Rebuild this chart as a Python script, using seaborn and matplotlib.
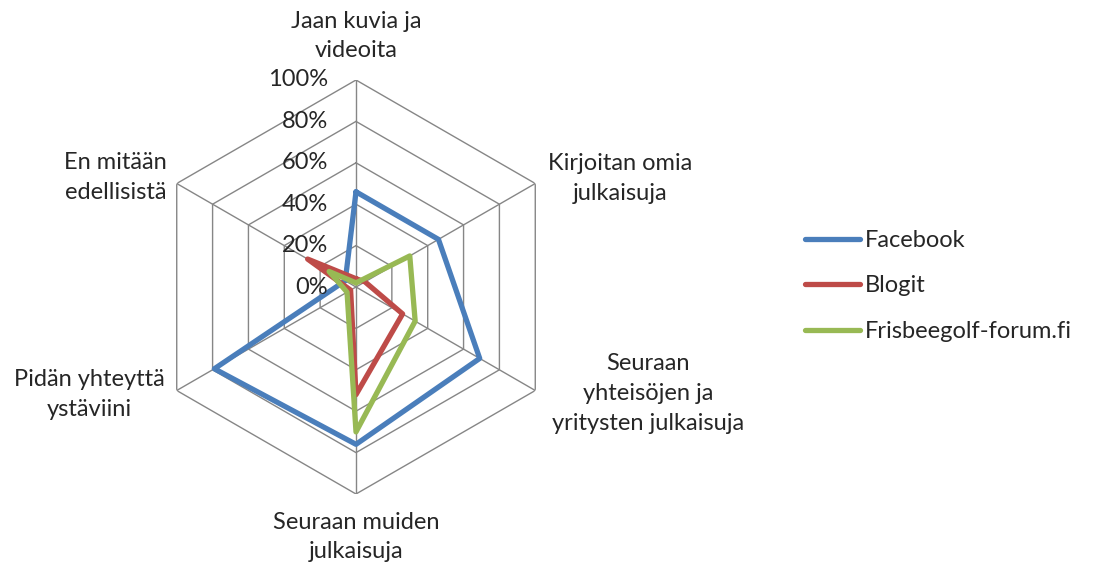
import matplotlib
matplotlib.use("Agg")
import matplotlib.pyplot as plt
import numpy as np
import pandas as pd
import seaborn as sns

# chart data
categories = ["Jaan kuvia ja\nvideoita", "Kirjoitan omia\njulkaisuja",
              "Seuraan\nyhteisöjen ja\nyritysten julkaisuja",
              "Seuraan muiden\njulkaisuja", "Pidän yhteyttä\nystäviini",
              "En mitään\nedellisistä"]
series = ["Facebook", "Blogit", "Frisbeegolf-forum.fi"]
facebook = [0.46, 0.46, 0.69, 0.76, 0.79, 0.06]
blogit = [0.04, 0.05, 0.26, 0.52, 0.03, 0.27]
frisbee = [0.02, 0.30, 0.33, 0.70, 0.05, 0.15]
ticks = [0, 0.2, 0.4, 0.6, 0.8, 1.0]
tick_labels = ["0%", "20%", "40%", "60%", "80%", "100%"]

colors = ["#4A7EBB", "#BE4B48", "#98B954"]

sns.set_style("white")
plt.rcParams["font.family"] = ["Lato", "DejaVu Sans"]
FS = 17

n = len(categories)
angles = np.linspace(0, 2 * np.pi, n, endpoint=False)
closed = np.append(angles, 2 * np.pi)

# long table, polygon closed by repeating the first value
rows = []
for name, vals in zip(series, [facebook, blogit, frisbee]):
    v = list(vals) + [vals[0]]
    for t, r in zip(closed, v):
        rows.append({"theta": t, "value": r, "series": name})
df = pd.DataFrame(rows)

fig = plt.figure(figsize=(10.95, 5.65), dpi=100)
ax = fig.add_axes([149 / 1095, 71 / 565, 414 / 1095, 414 / 565], projection="polar")
ax.set_theta_offset(np.pi / 2)
ax.set_theta_direction(-1)
ax.set_ylim(0, 1)
ax.grid(False)
ax.spines["polar"].set_visible(False)
ax.set_xticks([])
ax.set_yticks([])

# hexagonal grid
grid_c = "#868686"
for r in ticks[1:]:
    ax.plot(closed, [r] * len(closed), color=grid_c, lw=1.0, zorder=1)
for a in angles:
    ax.plot([a, a], [0, 1], color=grid_c, lw=1.0, zorder=1)

sns.lineplot(data=df, x="theta", y="value", hue="series", hue_order=series,
             palette=colors, sort=False, estimator=None, units="series",
             lw=3.8, ax=ax, zorder=3)
ax.set_xlabel("")
ax.set_ylabel("")

# radial tick labels
for r, lab in zip(ticks, tick_labels):
    ax.annotate(lab, xy=(0, r), xytext=(-28, 0), textcoords="offset pixels",
                ha="right", va="center", fontsize=FS)

# category labels
offsets = [(0, 44), (85, 5), (113, -3), (0, -43), (-87, -4), (-61, 6)]
for a, lab, off in zip(angles, categories, offsets):
    ax.annotate(lab, xy=(a, 1.0), xytext=off, textcoords="offset pixels",
                ha="center", va="center", fontsize=FS, linespacing=1.5,
                annotation_clip=False)

handles, labels = ax.get_legend_handles_labels()
ax.legend_.remove()
fig.legend(handles, labels, loc="center left", bbox_to_anchor=(805 / 1095, 1 - 286 / 565),
           frameon=False, fontsize=FS, handlelength=2.33, handletextpad=0.2,
           labelspacing=1.03, borderpad=0, borderaxespad=0)

fig.savefig("out.png", dpi=100)
